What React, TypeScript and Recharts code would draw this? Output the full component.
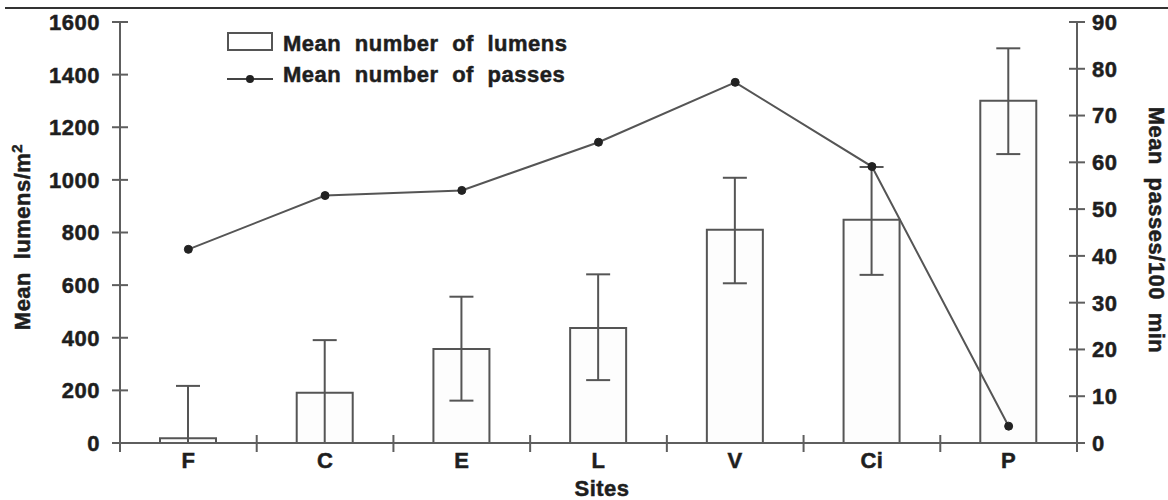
import React from 'react';
import { ComposedChart, Bar, Line, XAxis, YAxis, ErrorBar, Legend } from 'recharts';

// Sites along the x axis
const sites = ['F', 'C', 'E', 'L', 'V', 'Ci', 'P'];
// Mean number of lumens per m2 (bars, left axis)
const lumens = [18, 191, 357, 437, 810, 848, 1301];
// error bar extents below / above the bar top
const lumensErrLow = [18, 191, 196, 198, 203, 209, 203];
const lumensErrHigh = [199, 200, 199, 204, 198, 201, 199];
// Mean number of passes per 100 min (line, right axis)
const passes = [41.4, 52.9, 54, 64.3, 77.1, 59.1, 3.6];

const leftTicks = [0, 200, 400, 600, 800, 1000, 1200, 1400, 1600];
const rightTicks = [0, 10, 20, 30, 40, 50, 60, 70, 80, 90];

const chartData = sites.map((site, i) => ({
  site,
  lumens: lumens[i],
  lumErr: [lumensErrLow[i], lumensErrHigh[i]],
  passes: passes[i],
}));

const FONT = '"Liberation Sans", Arial, Helvetica, sans-serif';
const INK = '#1e1e1e';
const AXIS = '#5e5e5e';
const PLOT_LEFT = 120;
const PLOT_RIGHT = 1077;
const HALF_BAND = (PLOT_RIGHT - PLOT_LEFT) / sites.length / 2;

// scanned figure text is heavy, a thin same-colour stroke thickens it a bit
const textStyle = {
  fontFamily: FONT,
  fontWeight: 700,
  fontSize: 22,
  letterSpacing: 0.5,
  wordSpacing: 6,
  fill: INK,
  stroke: INK,
  strokeWidth: 0.5,
};

const LeftTick = (props: any) => {
  const { x, y, payload } = props;
  return (
    <g>
      <line x1={x + 12} x2={x + 28} y1={y} y2={y} stroke={AXIS} strokeWidth={2} />
      <text x={x} y={y} dy="0.36em" textAnchor="end" style={textStyle}>
        {payload.value}
      </text>
    </g>
  );
};

const RightTick = (props: any) => {
  const { x, y, payload } = props;
  return (
    <g>
      <line x1={x - 23} x2={x - 7} y1={y} y2={y} stroke={AXIS} strokeWidth={2} />
      <text x={x} y={y} dy="0.36em" textAnchor="start" style={textStyle}>
        {payload.value}
      </text>
    </g>
  );
};

const SiteTick = (props: any) => {
  const { x, y, payload, index } = props;
  const last = index === sites.length - 1;
  return (
    <g>
      <line x1={x - HALF_BAND} x2={x - HALF_BAND} y1={y - 17} y2={y} stroke={AXIS} strokeWidth={2} />
      {last && (
        <line x1={x + HALF_BAND} x2={x + HALF_BAND} y1={y - 17} y2={y} stroke={AXIS} strokeWidth={2} />
      )}
      <text x={x} y={y} dy="0.73em" textAnchor="middle" style={textStyle}>
        {payload.value}
      </text>
    </g>
  );
};

const LegendBox = () => (
  <div
    style={{
      fontFamily: FONT,
      fontWeight: 700,
      fontSize: 22,
      letterSpacing: 0.5,
      wordSpacing: 7,
      color: INK,
      lineHeight: '31px',
      WebkitTextStroke: '0.5px #1e1e1e',
    }}
  >
    <div style={{ display: 'flex', alignItems: 'center' }}>
      <svg width={58} height={31}>
        <rect x={3} y={5} width={44} height={17} fill="#fff" stroke="#555" strokeWidth={2} />
      </svg>
      <span>Mean number of lumens</span>
    </div>
    <div style={{ display: 'flex', alignItems: 'center' }}>
      <svg width={58} height={31}>
        <line x1={2} x2={48} y1={20} y2={20} stroke="#444" strokeWidth={2} />
        <circle cx={25} cy={20} r={4} fill="#222" />
      </svg>
      <span>Mean number of passes</span>
    </div>
  </div>
);

export default function App() {
  return (
    <div style={{ position: 'absolute', left: 0, top: 0, width: 1168, height: 500, background: '#fff' }}>
      <div style={{ position: 'absolute', left: 5, right: 0, top: 7, borderTop: '2px solid #333' }} />
      <ComposedChart
        width={1168}
        height={500}
        data={chartData}
        margin={{ top: 22, right: 0, bottom: 0, left: 0 }}
      >
        <XAxis
          dataKey="site"
          height={57}
          axisLine={{ stroke: AXIS, strokeWidth: 2 }}
          tickLine={false}
          tickSize={8}
          tickMargin={1}
          tick={<SiteTick />}
          interval={0}
          label={{
            content: () => (
              <text x={602} y={496} textAnchor="middle" style={textStyle}>
                Sites
              </text>
            ),
          }}
        />
        <YAxis
          yAxisId="left"
          width={120}
          domain={[0, 1600]}
          ticks={leftTicks}
          interval={0}
          axisLine={{ stroke: AXIS, strokeWidth: 2 }}
          tickLine={false}
          tickSize={8}
          tickMargin={12}
          tick={<LeftTick />}
          label={{
            content: () => (
              <text x={22} y={237} dy="0.36em" textAnchor="middle" transform="rotate(-90 22 237)" style={textStyle}>
                Mean lumens/m
                <tspan dy={-8} fontSize={15}>2</tspan>
              </text>
            ),
          }}
        />
        <YAxis
          yAxisId="right"
          orientation="right"
          width={91}
          domain={[0, 90]}
          ticks={rightTicks}
          interval={0}
          axisLine={{ stroke: AXIS, strokeWidth: 2 }}
          tickLine={false}
          tickSize={8}
          tickMargin={7}
          tick={<RightTick />}
          label={{
            content: () => (
              <text x={1157} y={230} dy="0.36em" textAnchor="middle" transform="rotate(90 1157 230)" style={textStyle}>
                Mean passes/100 min
              </text>
            ),
          }}
        />
        <Legend
          layout="horizontal"
          verticalAlign="middle"
          align="center"
          content={<LegendBox />}
          wrapperStyle={{ left: 225, top: 28, width: 'auto' }}
        />
        <Bar
          yAxisId="left"
          dataKey="lumens"
          name="Mean number of lumens"
          barSize={56}
          fill="#fdfdfd"
          stroke="#555"
          strokeWidth={2}
          isAnimationActive={false}
        >
          <ErrorBar dataKey="lumErr" width={12} stroke="#555" strokeWidth={2} />
        </Bar>
        <Line
          yAxisId="right"
          type="linear"
          dataKey="passes"
          name="Mean number of passes"
          stroke="#555"
          strokeWidth={2}
          dot={{ r: 4, fill: '#222', stroke: '#222', strokeWidth: 1 }}
          isAnimationActive={false}
        />
      </ComposedChart>
    </div>
  );
}
